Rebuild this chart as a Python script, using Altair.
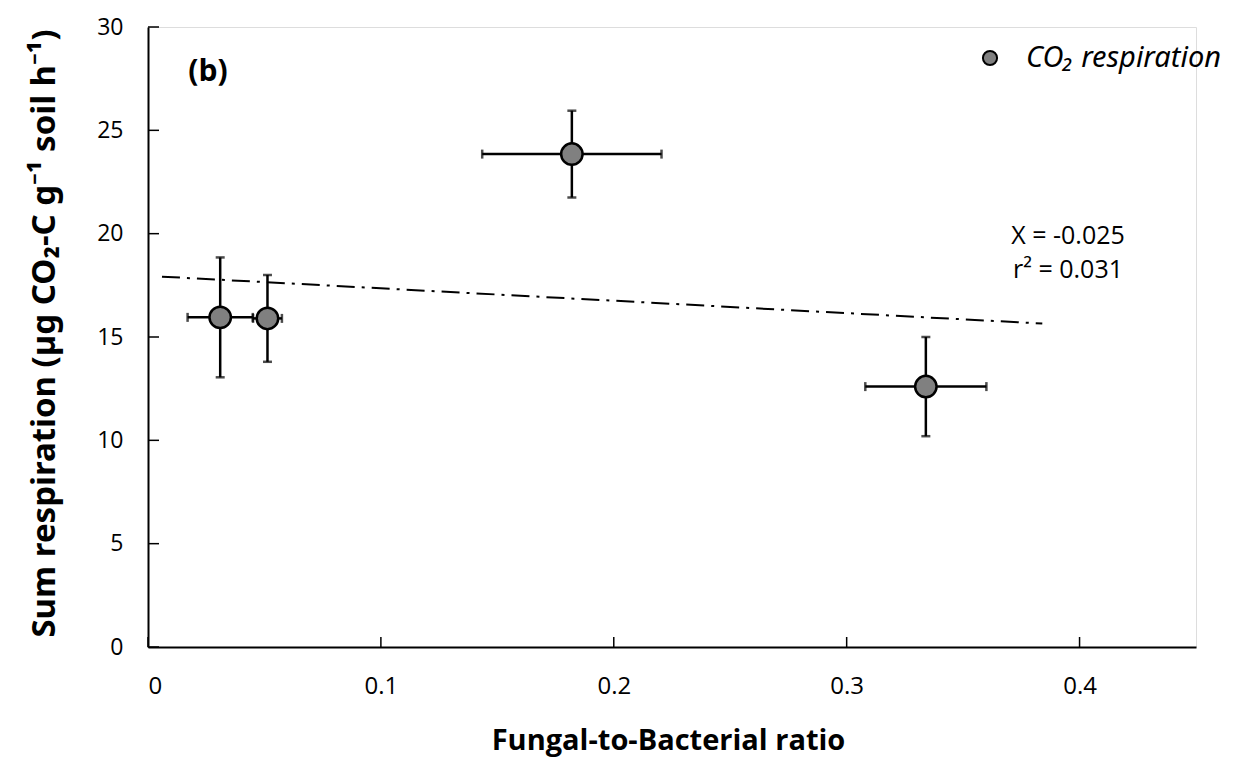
import altair as alt
import pandas as pd

# ---- data ----
ratio = [0.031, 0.0513, 0.182, 0.334]
ratio_err = [0.014, 0.0062, 0.0385, 0.026]
resp = [15.95, 15.9, 23.85, 12.6]
resp_err = [2.9, 2.1, 2.1, 2.4]

trend_x = [0.006, 0.384]
trend_y = [17.92, 15.65]

x_ticks = [0, 0.1, 0.2, 0.3, 0.4]
y_ticks = [0, 5, 10, 15, 20, 25, 30]

panel_label = ["(b)"]
legend_label = ["CO\u2082 respiration"]
stats_line1 = ["X = -0.025"]
stats_line2 = ["r\u00b2 = 0.031"]
x_title = "Fungal-to-Bacterial ratio"
y_title = "Sum respiration (\u00b5g CO\u2082-C g\u207b\u00b9 soil h\u207b\u00b9)"

W, H = 1048, 620

df = pd.DataFrame({
    "ratio": ratio, "resp": resp,
    "xlo": [r - e for r, e in zip(ratio, ratio_err)],
    "xhi": [r + e for r, e in zip(ratio, ratio_err)],
    "ylo": [v - e for v, e in zip(resp, resp_err)],
    "yhi": [v + e for v, e in zip(resp, resp_err)],
})
trend = pd.DataFrame({"ratio": trend_x, "resp": trend_y})

xscale = alt.Scale(domain=[0, 0.45], nice=False, zero=False)
yscale = alt.Scale(domain=[0, 30], nice=False, zero=False)

xaxis = alt.Axis(values=x_ticks, format="~g", title=x_title, grid=False, ticks=False, tickSize=0,
                 domainColor="black", domainWidth=2,
                 labelFont="Open Sans", labelFontSize=24, labelColor="black",
                 labelPadding=27,
                 titleFont="Open Sans", titleFontSize=29, titleFontWeight="bold",
                 titleColor="black", titleX=W / 2 - 4, titleY=93, titleBaseline="middle")
yaxis = alt.Axis(values=y_ticks, title=y_title, grid=False, ticks=False, tickSize=0,
                 domainColor="black", domainWidth=2,
                 labelFont="Open Sans", labelFontSize=23, labelColor="black",
                 labelPadding=25,
                 titleFont="Noto Sans", titleFontSize=33, titleFontWeight="bold",
                 titleColor="black", titleX=-104, titleY=H / 2 - 4, titleBaseline="middle",
                 titleAngle=270)

base = alt.Chart(df)

trend_line = alt.Chart(trend).mark_line(color="black", strokeWidth=2,
                                        strokeDash=[18, 7, 3, 7]).encode(
    x=alt.X("ratio:Q", scale=xscale, axis=xaxis),
    y=alt.Y("resp:Q", scale=yscale, axis=yaxis),
)

xbar = base.mark_rule(color="black", strokeWidth=2.5).encode(
    x=alt.X("xlo:Q", scale=xscale), x2="xhi:Q", y=alt.Y("resp:Q", scale=yscale))
ybar = base.mark_rule(color="black", strokeWidth=2.5).encode(
    x=alt.X("ratio:Q", scale=xscale), y=alt.Y("ylo:Q", scale=yscale), y2="yhi:Q")

xcap_lo = base.mark_tick(color="black", orient="vertical", size=9, thickness=2.5).encode(
    x=alt.X("xlo:Q", scale=xscale), y=alt.Y("resp:Q", scale=yscale))
xcap_hi = base.mark_tick(color="black", orient="vertical", size=9, thickness=2.5).encode(
    x=alt.X("xhi:Q", scale=xscale), y=alt.Y("resp:Q", scale=yscale))
ycap_lo = base.mark_tick(color="black", orient="horizontal", size=9, thickness=2.5).encode(
    x=alt.X("ratio:Q", scale=xscale), y=alt.Y("ylo:Q", scale=yscale))
ycap_hi = base.mark_tick(color="black", orient="horizontal", size=9, thickness=2.5).encode(
    x=alt.X("ratio:Q", scale=xscale), y=alt.Y("yhi:Q", scale=yscale))

points = base.mark_point(shape="circle", filled=True, size=460, fill="#808080",
                         stroke="black", strokeWidth=2.5, opacity=1).encode(
    x=alt.X("ratio:Q", scale=xscale), y=alt.Y("resp:Q", scale=yscale))

# inward axis ticks
xt = alt.Chart(pd.DataFrame({"v": x_ticks})).mark_rule(color="black", strokeWidth=1.5).encode(
    x=alt.X("v:Q", scale=xscale), y=alt.value(H), y2=alt.value(H - 10))
yt = alt.Chart(pd.DataFrame({"v": y_ticks})).mark_rule(color="black", strokeWidth=1.5).encode(
    y=alt.Y("v:Q", scale=yscale), x=alt.value(0), x2=alt.value(11))

panel = alt.Chart(pd.DataFrame({"t": panel_label})).mark_text(
    font="Open Sans", fontSize=30, fontWeight="bold", color="black", align="center",
    baseline="middle").encode(text="t:N", x=alt.value(60), y=alt.value(45))

leg_sym = alt.Chart(pd.DataFrame({"t": legend_label})).mark_point(
    shape="circle", filled=True, size=200, fill="#808080", stroke="black", strokeWidth=2,
    opacity=1).encode(x=alt.value(842), y=alt.value(31))
leg_txt = alt.Chart(pd.DataFrame({"t": legend_label})).mark_text(
    font="Noto Sans", fontSize=29, fontStyle="italic", color="black", align="left",
    baseline="middle").encode(text="t:N", x=alt.value(878), y=alt.value(31))

stats1 = alt.Chart(pd.DataFrame({"t": stats_line1})).mark_text(
    font="Open Sans", fontSize=25, color="black", align="center", baseline="middle").encode(
    text="t:N", x=alt.value(920), y=alt.value(209))
stats2 = alt.Chart(pd.DataFrame({"t": stats_line2})).mark_text(
    font="Open Sans", fontSize=25, color="black", align="center", baseline="middle").encode(
    text="t:N", x=alt.value(920), y=alt.value(243))

chart = alt.layer(
    trend_line, xbar, ybar, xcap_lo, xcap_hi, ycap_lo, ycap_hi, points,
    xt, yt, panel, leg_sym, leg_txt, stats1, stats2
).properties(
    width=W, height=H,
    autosize=alt.AutoSizeParams(type="none"),
    padding={"left": 140, "top": 19, "right": 36, "bottom": 114},
).configure_view(stroke=None).configure(background="white")

chart.save("out.html", embed_options={"renderer": "svg", "actions": False})
